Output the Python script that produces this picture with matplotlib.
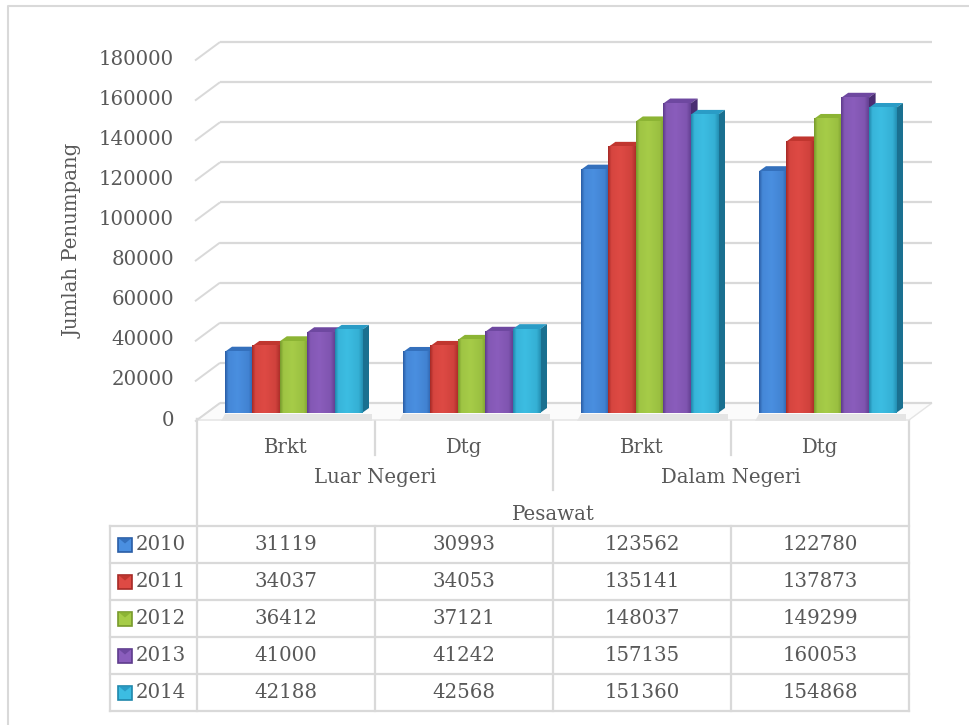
import matplotlib
matplotlib.use('Agg')
import matplotlib.pyplot as plt
import numpy as np
from matplotlib.patches import Polygon, Rectangle
from matplotlib.colors import to_rgb

# ---------------- data ----------------
groups = ['Luar Negeri', 'Dalam Negeri']
categories = ['Brkt', 'Dtg', 'Brkt', 'Dtg']
axis_title = 'Pesawat'
years = ['2010', '2011', '2012', '2013', '2014']
v2010 = [31119, 30993, 123562, 122780]
v2011 = [34037, 34053, 135141, 137873]
v2012 = [36412, 37121, 148037, 149299]
v2013 = [41000, 41242, 157135, 160053]
v2014 = [42188, 42568, 151360, 154868]
series = [v2010, v2011, v2012, v2013, v2014]
yticks = [0, 20000, 40000, 60000, 80000, 100000, 120000, 140000, 160000, 180000]
ylabel = 'Jumlah Penumpang'

# ---------------- style ----------------
front_light = ['#4a8fe0', '#de4a44', '#a6cc48', '#8a5dbc', '#3cbde2']
front_dark = ['#2a5da6', '#a62a26', '#789a2c', '#5e3c8c', '#2088ac']
side_col = ['#1f4f8c', '#8a1f1c', '#5c7c1e', '#4a2d72', '#1a7090']
top_col = ['#3470bc', '#c0362f', '#8cb434', '#6e48a0', '#2a9cc6']
TXT = '#595959'
LINE = '#d9d9d9'
FONT = 'DejaVu Serif'
FS = 14.2
PERSP = 0.982   # bars sit slightly behind the front plane

plt.rcParams['font.family'] = FONT

W, H = 970, 725
fig = plt.figure(figsize=(W / 100, H / 100), dpi=100)
fig.patch.set_facecolor('white')

# overlay axes in pixel coordinates (for table & frame)
ov = fig.add_axes([0, 0, 1, 1], zorder=0)
ov.set_xlim(0, W)
ov.set_ylim(H, 0)
ov.axis('off')

# main plot axes = front plane of 3D chart
L, R, Y0, Y1 = 197, 909, 420, 59
ax = fig.add_axes([L / W, 1 - Y0 / H, (R - L) / W, (Y0 - Y1) / H], zorder=1)
ax.patch.set_alpha(0)
ncat = len(categories)
ymax = yticks[-1]
ax.set_xlim(0, ncat)
ax.set_ylim(0, ymax)
ax.axis('off')

ux = ncat / (R - L)          # data units per pixel (x)
uy = ymax / (Y0 - Y1)        # data units per pixel (y)
DX, DY = 23 * ux, 17 * uy    # depth of the floor / walls

# outer frame
ov.plot([8, 8, W + 5], [H + 5, 6, 6], color=LINE, lw=1.5, clip_on=False)

# floor
ax.add_patch(Polygon([(0, 0), (ncat, 0), (ncat + DX, DY), (DX, DY)],
                     closed=True, fc='#fbfbfb', ec='#e4e4e4', lw=1.0, zorder=1, clip_on=False))

# gridlines (left slant + back wall)
for v in yticks:
    ax.plot([-2 * ux, DX], [v - 1.5 * uy, v + DY], color=LINE, lw=1.4, zorder=1,
            clip_on=False, solid_capstyle='butt')
    ax.plot([DX, ncat + DX], [v + DY, v + DY], color=LINE, lw=1.6, zorder=1,
            clip_on=False, solid_capstyle='butt')
    ax.text(-23 * ux, v, f'{v}', ha='right', va='center', fontsize=FS,
            color=TXT, family=FONT)

ov.text(73, 241, ylabel, rotation=90, ha='center', va='center', fontsize=FS,
        color=TXT, family=FONT)

# bars
nser = len(series)
bw = 27.4 * ux
gstart = (1 - nser * bw) / 2
ofx, ofy = 7.5 * ux, 7.0 * uy     # bar front plane offset
bdx, bdy = 7 * ux, 5 * uy         # bar depth

t = np.linspace(0, 1, 60)
prof = np.interp(t, [0, 0.12, 0.45, 0.85, 1.0], [0.0, 0.85, 1.0, 0.75, 0.15])

# soft shadow on floor
for i in range(ncat):
    x0 = i + gstart + ofx
    x1 = x0 + nser * bw
    ax.add_patch(Polygon([(x0 - 4 * ux, -0.5 * uy), (x1 + bdx + 3 * ux, -0.5 * uy),
                          (x1 + bdx + 3 * ux, bdy + 1.5 * uy), (x0, bdy + 1.5 * uy)],
                         closed=True, fc='#e4e4e4', ec='none', zorder=1.5, clip_on=False))

z = 2
for i in range(ncat):
    for j in range(nser):
        v = series[j][i] * PERSP
        x0 = i + gstart + j * bw + ofx
        x1 = x0 + bw
        yb = ofy
        yt = ofy + v
        # top face
        ax.add_patch(Polygon([(x0, yt), (x1, yt), (x1 + bdx, yt + bdy), (x0 + bdx, yt + bdy)],
                             closed=True, fc=top_col[j], ec='none', zorder=z, clip_on=False))
        # side face
        ax.add_patch(Polygon([(x1, yb), (x1 + bdx, yb + bdy), (x1 + bdx, yt + bdy), (x1, yt)],
                             closed=True, fc=side_col[j], ec='none', zorder=z, clip_on=False))
        # front face with gradient
        c1 = np.array(to_rgb(front_dark[j]))
        c2 = np.array(to_rgb(front_light[j]))
        img = (c1[None, :] * (1 - prof[:, None]) + c2[None, :] * prof[:, None])[None, :, :]
        ax.imshow(img, extent=[x0, x1, yb, yt], aspect='auto', interpolation='bilinear',
                  zorder=z + 0.1, clip_on=False)
        z += 0.3

ax.set_xlim(0, ncat)
ax.set_ylim(0, ymax)

# ---------------- table ----------------
cw = (R - L) / ncat
colx = [L + cw * k for k in range(ncat + 1)]
top = 419
row_top = 526
rh = 37
nrow = len(years)
row_bot = row_top + rh * nrow
lk = 110

# header lines
ov.plot([L, R], [top, top], color=LINE, lw=1.6)
ov.plot([L, L], [top, row_bot], color=LINE, lw=1.6)
ov.plot([R, R], [top, row_bot], color=LINE, lw=1.6)
for k in (1, 3):
    ov.plot([colx[k], colx[k]], [top, 455], color=LINE, lw=1.6)
ov.plot([colx[2], colx[2]], [top, 490], color=LINE, lw=1.6)
for k in (1, 2, 3):
    ov.plot([colx[k], colx[k]], [row_top, row_bot], color=LINE, lw=1.6)
ov.plot([lk, lk], [row_top, row_bot], color=LINE, lw=1.6)
for r in range(nrow + 1):
    y = row_top + rh * r
    ov.plot([lk, R], [y, y], color=LINE, lw=1.6)

# header text
for k, c in enumerate(categories):
    ov.text((colx[k] + colx[k + 1]) / 2, 447, c, ha='center', va='center',
            fontsize=FS, color=TXT)
for g, name in enumerate(groups):
    ov.text((colx[2 * g] + colx[2 * g + 2]) / 2, 477, name, ha='center', va='center',
            fontsize=FS, color=TXT)
ov.text((L + R) / 2, 514, axis_title, ha='center', va='center', fontsize=FS, color=TXT)

# rows
for r, yr in enumerate(years):
    yc = row_top + rh * (r + 0.5)
    ov.add_patch(Rectangle((118, yc - 7), 14, 14, fc=front_light[r], ec=front_dark[r], lw=1.2))
    ov.add_patch(Polygon([(119, yc - 6), (131, yc - 6), (125, yc - 1)], closed=True,
                         fc=top_col[r], ec='none'))
    ov.text(136, yc, yr, ha='left', va='center', fontsize=FS, color=TXT)
    for k in range(ncat):
        ov.text((colx[k] + colx[k + 1]) / 2, yc, f'{series[r][k]}', ha='center',
                va='center', fontsize=FS, color=TXT)

fig.savefig('out.png', dpi=100, facecolor='white')
